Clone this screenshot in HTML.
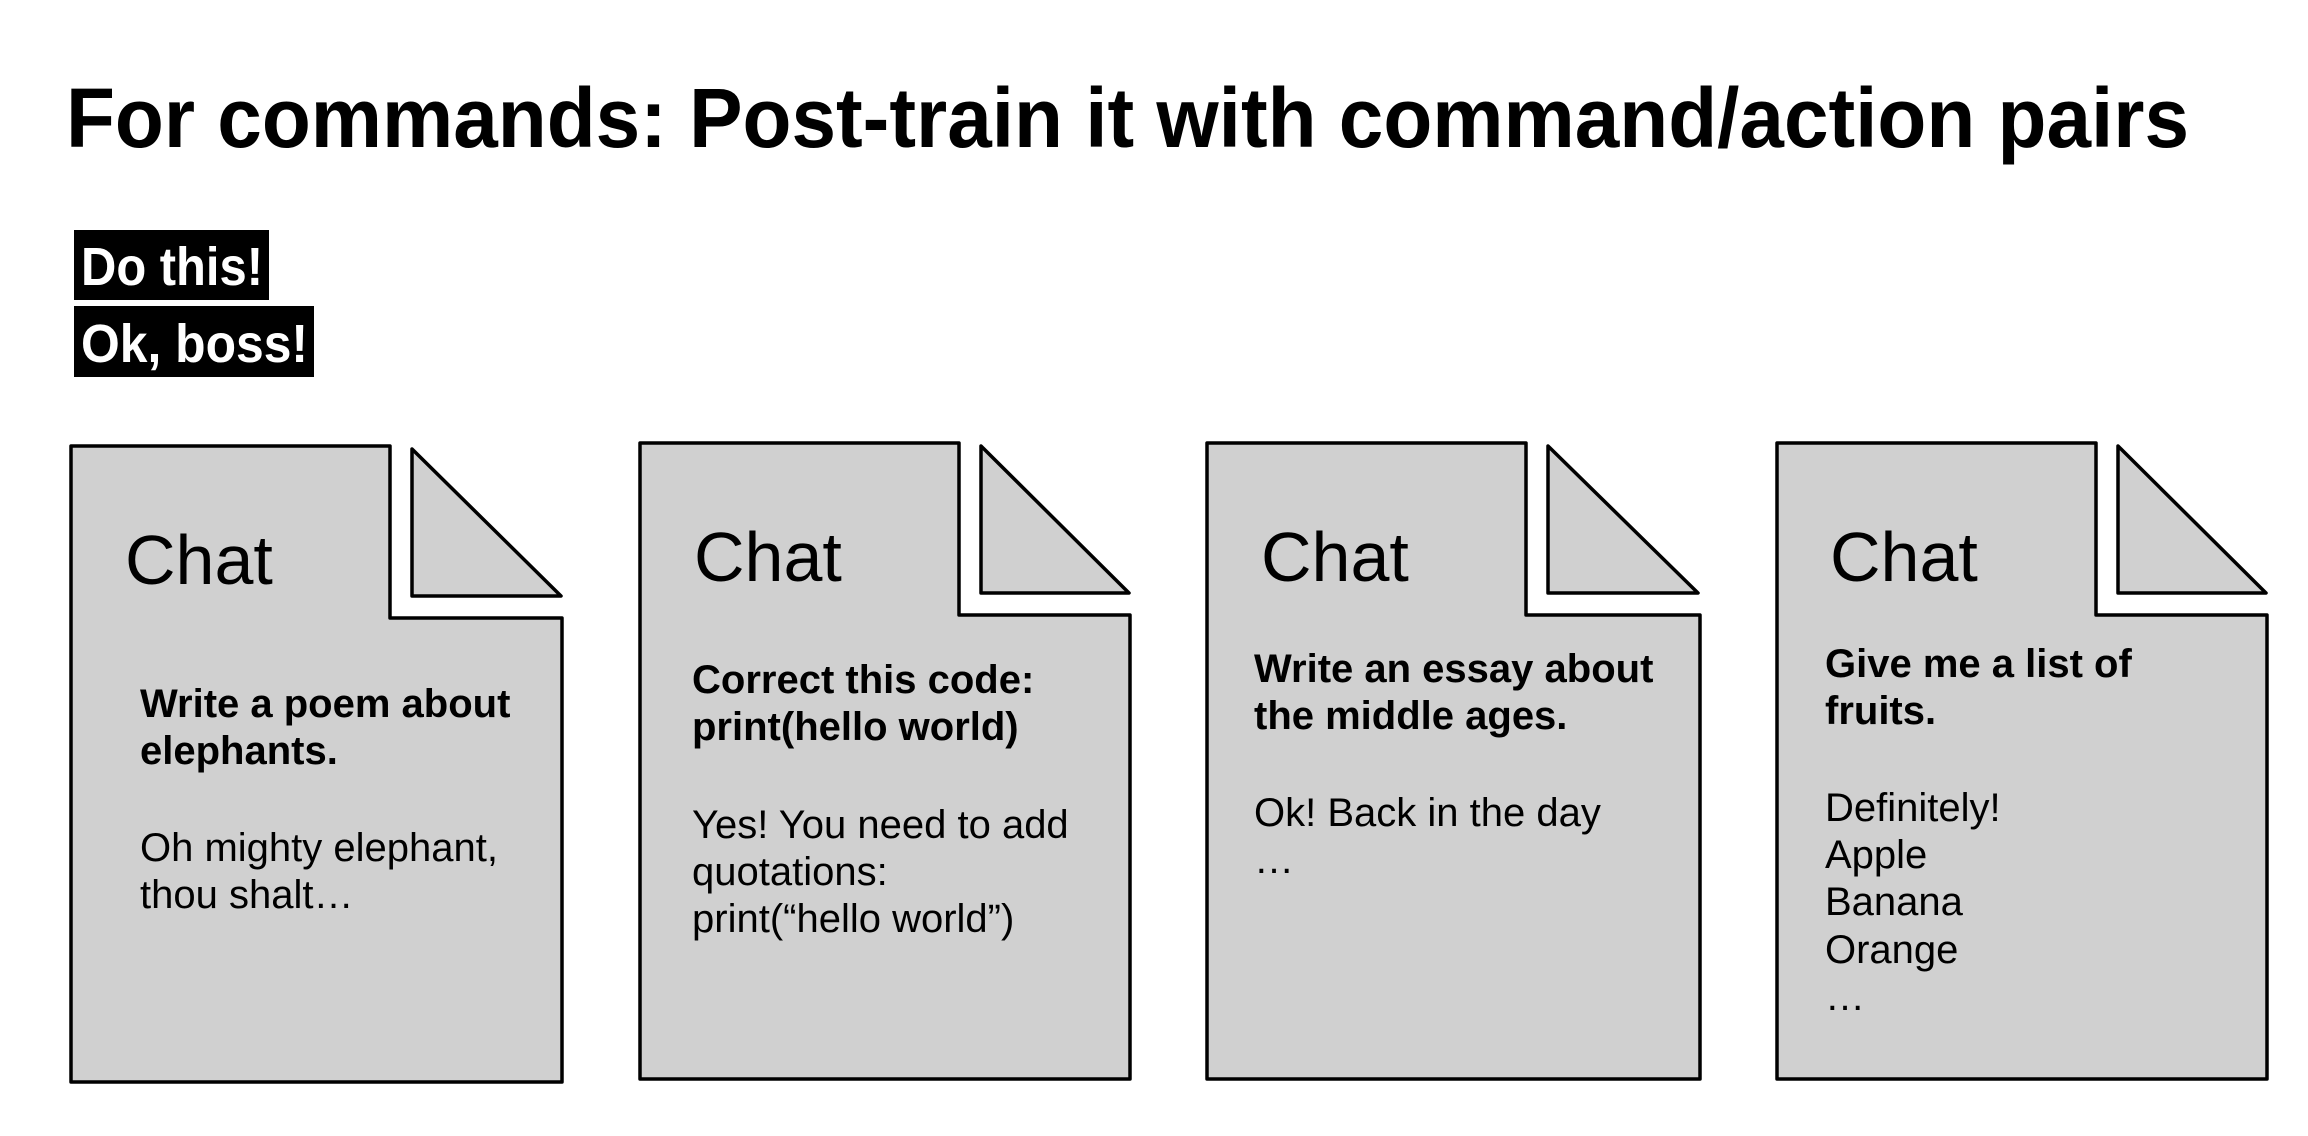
<!DOCTYPE html>
<html><head><meta charset="utf-8"><style>
html,body{margin:0;padding:0;background:#fff;width:2308px;height:1136px;overflow:hidden}
svg{display:block}
text{font-family:"Liberation Sans",Arial,sans-serif}
</style></head><body>
<svg width="2308" height="1136" viewBox="0 0 2308 1136" xmlns="http://www.w3.org/2000/svg">
<text x="66" y="147" font-size="84" font-weight="bold" textLength="2123" lengthAdjust="spacingAndGlyphs">For commands: Post-train it with command/action pairs</text>
<rect x="74" y="230" width="195" height="70" fill="#000"/>
<text x="81" y="285" font-size="54" font-weight="bold" fill="#fff" textLength="182" lengthAdjust="spacingAndGlyphs">Do this!</text>
<rect x="74" y="306" width="240" height="71" fill="#000"/>
<text x="81" y="362" font-size="54" font-weight="bold" fill="#fff" textLength="227" lengthAdjust="spacingAndGlyphs">Ok, boss!</text>
<g fill="#d0d0d0" stroke="#000" stroke-width="3.5" stroke-linejoin="round">
<path d="M71 446 H390 V618 H562 V1082 H71 Z"/>
<path d="M412 449 L561 596 H412 Z"/>
<path d="M640 443 H959 V615 H1130 V1079 H640 Z"/>
<path d="M981 446 L1129 593 H981 Z"/>
<path d="M1207 443 H1526 V615 H1700 V1079 H1207 Z"/>
<path d="M1548 446 L1698 593 H1548 Z"/>
<path d="M1777 443 H2096 V615 H2267 V1079 H1777 Z"/>
<path d="M2118 446 L2266 593 H2118 Z"/>
</g>
<g font-size="70" fill="#000">
<text x="125" y="584">Chat</text>
<text x="694" y="581">Chat</text>
<text x="1261" y="581">Chat</text>
<text x="1830" y="581">Chat</text>
</g>
<g font-size="40" fill="#000">
<g font-weight="bold">
<text x="140" y="717">Write a poem about</text>
<text x="140" y="764">elephants.</text>
<text x="692" y="693">Correct this code:</text>
<text x="692" y="740">print(hello world)</text>
<text x="1254" y="682">Write an essay about</text>
<text x="1254" y="729">the middle ages.</text>
<text x="1825" y="677">Give me a list of</text>
<text x="1825" y="724">fruits.</text>
</g>
<text x="140" y="861">Oh mighty elephant,</text>
<text x="140" y="908">thou shalt…</text>
<text x="692" y="838">Yes! You need to add</text>
<text x="692" y="885">quotations:</text>
<text x="692" y="932">print(“hello world”)</text>
<text x="1254" y="826">Ok! Back in the day</text>
<text x="1254" y="873">…</text>
<text x="1825" y="821">Definitely!</text>
<text x="1825" y="868">Apple</text>
<text x="1825" y="915">Banana</text>
<text x="1825" y="963">Orange</text>
<text x="1825" y="1010">…</text>
</g>
</svg>
</body></html>
